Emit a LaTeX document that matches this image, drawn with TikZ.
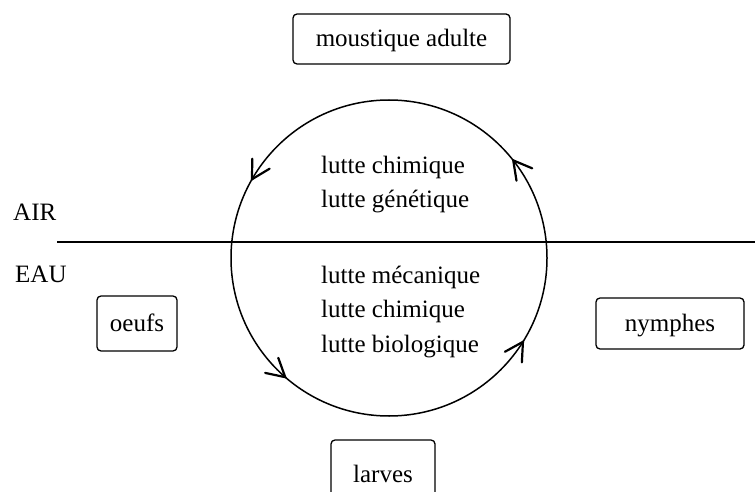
\documentclass[tikz,border=0pt]{standalone}
\usepackage{fontspec}
\setmainfont{Liberation Serif}
\usetikzlibrary{decorations.markings}
\tikzset{
  every node/.style={font=\fontsize{25}{34.5}\selectfont},
  box/.style={draw, line width=1.3pt, rounded corners=4pt, inner sep=0pt,
    text height=18pt, text depth=3pt, align=center},
  lbl/.style={anchor=base west, inner sep=0pt},
  barbmark/.style={line width=2.2pt, line cap=round},
  cyc/.style={line width=1.5pt, postaction=decorate, decoration={markings,
    mark=at position 0.106 with {\draw[barbmark] (-18pt,10pt) -- (0pt,0pt) -- (-18pt,-10pt);},
    mark=at position 0.417 with {\draw[barbmark] (-18pt,10pt) -- (0pt,0pt) -- (-18pt,-10pt);},
    mark=at position 0.636 with {\draw[barbmark] (-18pt,10pt) -- (0pt,0pt) -- (-18pt,-10pt);},
    mark=at position 0.911 with {\draw[barbmark] (-18pt,10pt) -- (0pt,0pt) -- (-18pt,-10pt);}}}
}
\begin{document}
\begin{tikzpicture}[x=1pt,y=1pt]
\useasboundingbox (0,0) rectangle (755,491);
% boxes
\node[box, minimum width=217pt, minimum height=50pt] (adulte) at (401.5,452) {moustique adulte};
\node[box, minimum width=80pt, minimum height=55pt] (oeufs) at (137,167.5) {oeufs};
\node[box, minimum width=148pt, minimum height=51pt] (nymphes) at (670,167.5) {nymphes};
\node[box, minimum width=104pt, minimum height=70pt] (larves) at (383,16) {larves};
% water line
\coordinate (wl) at (57,249);
\coordinate (wr) at (755,249);
\draw[line width=1.3pt] (wl) -- (wr);
\node[lbl] (air) at (13,271) {AIR};
\node[lbl] (eau) at (15,209) {EAU};
% cycle
\coordinate (c) at (389,233);
\draw[cyc] (c) circle[radius=158pt];
% texts
\node[lbl] (t1) at (321,318) {lutte chimique};
\node[lbl] (t2) at (321,284) {lutte génétique};
\node[lbl] (t3) at (321,208) {lutte mécanique};
\node[lbl] (t4) at (321,173.5) {lutte chimique};
\node[lbl] (t5) at (321,139) {lutte biologique};
\end{tikzpicture}
\end{document}
